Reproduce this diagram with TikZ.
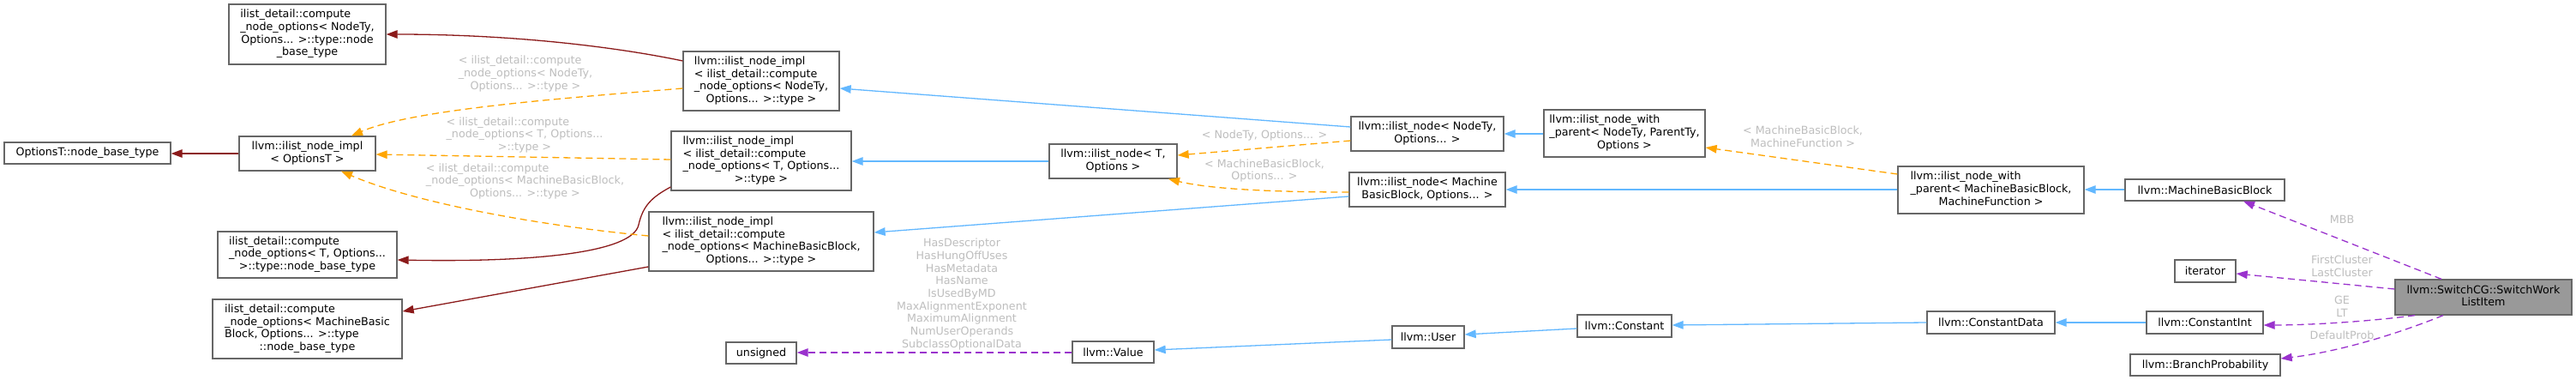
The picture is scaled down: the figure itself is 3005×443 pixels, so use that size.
\documentclass[tikz,border=0pt]{standalone}
\usepackage{fontspec}
\setmainfont{DejaVu Sans}
\usetikzlibrary{arrows.meta}
\definecolor{inhblue}{HTML}{63B8FF}
\definecolor{privred}{HTML}{8B1A1A}
\definecolor{tmplorange}{HTML}{FFA500}
\definecolor{usepurple}{HTML}{9A32CD}
\definecolor{lblgrey}{HTML}{BEBEBE}
\definecolor{nodeborder}{HTML}{666666}
\definecolor{mainfill}{HTML}{999999}
\newcommand\ctrline[1]{\multicolumn{1}{@{}c@{}}{#1}}
\newcommand\lbox[1]{\begin{tabular}{@{}l@{}}#1\end{tabular}}
\newcommand\cbox[1]{\begin{tabular}{@{}c@{}}#1\end{tabular}}
\begin{document}
\begin{tikzpicture}[x=1pt,y=-1pt,
  every node/.style={font=\fontsize{12.7}{14.7}\selectfont},
  cls/.style={draw=nodeborder, line width=1.3pt, fill=white, inner sep=0pt, rectangle},
  mainbox/.style={cls, fill=mainfill},
  edgebase/.style={line width=1.3pt, -{Triangle[length=13pt,width=9.5pt]}},
  bedge/.style={edgebase, draw=inhblue},
  redge/.style={edgebase, draw=privred},
  oedge/.style={edgebase, draw=tmplorange, dash pattern=on 8pt off 5pt},
  pedge/.style={edgebase, draw=usepurple, dash pattern=on 8pt off 5pt},
  lbl/.style={text=lblgrey, inner sep=0pt}
]
\fill[white] (0,0) rectangle (3005,443);
\useasboundingbox (0,0) rectangle (3005,443);

% nodes
\node[cls, minimum width=183, minimum height=70] (n1) at (358.5,40)
  {\lbox{ilist\_detail::compute\\ \_node\_options< NodeTy,\\ \ctrline{Options... >::type::node}\\ \ctrline{\_base\_type}}};
\node[cls, minimum width=194, minimum height=25] (n2) at (102,178.5) {OptionsT::node\_base\_type};
\node[cls, minimum width=159, minimum height=40] (n3) at (358.5,179)
  {\cbox{llvm::ilist\_node\_impl\\ < OptionsT >}};
\node[cls, minimum width=209, minimum height=54] (n4) at (358.5,297)
  {\lbox{ilist\_detail::compute\\ \_node\_options< T, Options...\\ \ctrline{>::type::node\_base\_type}}};
\node[cls, minimum width=221, minimum height=69] (n5) at (358.5,383.5)
  {\lbox{ilist\_detail::compute\\ \_node\_options< MachineBasic\\ Block, Options... >::type\\ \ctrline{::node\_base\_type}}};
\node[cls, minimum width=182, minimum height=69] (n6) at (888,94.5)
  {\lbox{llvm::ilist\_node\_impl\\ < ilist\_detail::compute\\ \_node\_options< NodeTy,\\ \ctrline{Options... >::type >}}};
\node[cls, minimum width=210, minimum height=69] (n7) at (888,187.5)
  {\lbox{llvm::ilist\_node\_impl\\ < ilist\_detail::compute\\ \_node\_options< T, Options...\\ \ctrline{>::type >}}};
\node[cls, minimum width=262, minimum height=69] (n8) at (888,281.5)
  {\lbox{llvm::ilist\_node\_impl\\ < ilist\_detail::compute\\ \_node\_options< MachineBasicBlock,\\ \ctrline{Options... >::type >}}};
\node[cls, minimum width=82, minimum height=25] (nu) at (888,411.5) {unsigned};
\node[cls, minimum width=95, minimum height=25] (nv) at (1298.5,410.5) {llvm::Value};
\node[cls, minimum width=149, minimum height=40] (inT) at (1298.5,188)
  {\cbox{llvm::ilist\_node< T,\\ Options >}};
\node[cls, minimum width=178, minimum height=40] (inN) at (1665,156)
  {\cbox{llvm::ilist\_node< NodeTy,\\ Options... >}};
\node[cls, minimum width=182, minimum height=40] (inM) at (1665,221)
  {\cbox{llvm::ilist\_node< Machine\\ BasicBlock, Options... >}};
\node[cls, minimum width=84, minimum height=26] (user) at (1666,393) {llvm::User};
\node[cls, minimum width=110, minimum height=26] (const) at (1895,380) {llvm::Constant};
\node[cls, minimum width=188, minimum height=55] (wpN) at (1895,155.5)
  {\lbox{llvm::ilist\_node\_with\\ \_parent< NodeTy, ParentTy,\\ \ctrline{Options >}}};
\node[cls, minimum width=217, minimum height=55] (wpM) at (2322.5,221.5)
  {\lbox{llvm::ilist\_node\_with\\ \_parent< MachineBasicBlock,\\ \ctrline{MachineFunction >}}};
\node[cls, minimum width=186, minimum height=25] (mbb) at (2572,221.5) {llvm::MachineBasicBlock};
\node[cls, minimum width=71, minimum height=26] (iter) at (2572.5,316) {iterator};
\node[cls, minimum width=149, minimum height=26] (cdata) at (2322.5,376) {llvm::ConstantData};
\node[cls, minimum width=136, minimum height=26] (cint) at (2572,376) {llvm::ConstantInt};
\node[cls, minimum width=175, minimum height=25] (bp) at (2572.5,425.5) {llvm::BranchProbability};
\node[mainbox, minimum width=206, minimum height=41] (main) at (2897,346.5)
  {\cbox{llvm::SwitchCG::SwitchWork\\ ListItem}};

% private (dark red) edges
\draw[redge] (n6.west |- 0,71) .. controls (720,55) and (600,40) .. (n1.east |- 0,40);
\draw[redge] (n3.west |- 0,179) -- (n2.east |- 0,179);
\draw[redge] (n7.west |- 0,218) .. controls (760,230) and (750,240) .. (745,262)
  .. controls (738,295) and (620,306) .. (n4.east |- 0,303);
\draw[redge] (n8.west |- 0,311) -- (n5.east |- 0,363);

% template (orange) edges
\draw[oedge] (n6.west |- 0,103) .. controls (650,115) and (480,128) .. (n3.north -| 410,0);
\draw[oedge] (n7.west |- 0,186) -- (n3.east |- 0,180);
\draw[oedge] (n8.west |- 0,275) .. controls (620,262) and (480,235) .. (n3.south -| 398,0);
\draw[oedge] (inN.west |- 0,164) -- (inT.east |- 0,181);
\draw[oedge] (inM.west |- 0,224) .. controls (1480,224) and (1410,220) .. (inT.south -| 1363,0);
\draw[oedge] (wpM.west |- 0,203) -- (wpN.east |- 0,172);

% inheritance (blue) edges
\draw[bedge] (inN.west |- 0,148) -- (n6.east |- 0,103);
\draw[bedge] (inT.west |- 0,188) -- (n7.east |- 0,188);
\draw[bedge] (inM.west |- 0,229) -- (n8.east |- 0,271);
\draw[bedge] (wpN.west |- 0,156) -- (inN.east |- 0,156);
\draw[bedge] (wpM.west |- 0,221) -- (inM.east |- 0,221);
\draw[bedge] (mbb.west |- 0,221) -- (wpM.east |- 0,221);
\draw[bedge] (cint.west |- 0,376) -- (cdata.east |- 0,376);
\draw[bedge] (cdata.west |- 0,376) -- (const.east |- 0,379);
\draw[bedge] (const.west |- 0,383) -- (user.east |- 0,390);
\draw[bedge] (user.west |- 0,396) -- (nv.east |- 0,408);

% usage (purple) edges
\draw[pedge] (nv.west |- 0,411) -- (nu.east |- 0,411);
\draw[pedge] (main.north -| 2848,0) -- (mbb.south -| 2617,0);
\draw[pedge] (main.west |- 0,337) -- (iter.east |- 0,319);
\draw[pedge] (main.south -| 2817,0) .. controls (2770,374) and (2700,379) .. (cint.east |- 0,379);
\draw[pedge] (main.south -| 2850,0) .. controls (2800,388) and (2730,410) .. (bp.east |- 0,418);

% edge labels
\node[lbl] (l5) at (613,86.5)
  {\lbox{< ilist\_detail::compute\\ \_node\_options< NodeTy,\\ \ctrline{Options... >::type >}}};
\node[lbl] (l6) at (612,158)
  {\lbox{< ilist\_detail::compute\\ \_node\_options< T, Options...\\ \ctrline{>::type >}}};
\node[lbl] (l7) at (612.5,212)
  {\lbox{< ilist\_detail::compute\\ \_node\_options< MachineBasicBlock,\\ \ctrline{Options... >::type >}}};
\node[lbl] (l11) at (1475,158) {< NodeTy, Options... >};
\node[lbl] (l12) at (1475,199.5) {\cbox{< MachineBasicBlock,\\ Options... >}};
\node[lbl] (l15) at (2103,161) {\cbox{< MachineBasicBlock,\\ MachineFunction >}};
\node[lbl] (l17) at (2732,256) {MBB};
\node[lbl] (l18) at (2732,312) {\cbox{FirstCluster\\ LastCluster}};
\node[lbl] (l19) at (2732,359) {\cbox{GE\\ LT}};
\node[lbl] (l20) at (2732,391) {DefaultProb};
\node[lbl] (l25) at (1122,343.5)
  {\cbox{HasDescriptor\\ HasHungOffUses\\ HasMetadata\\ HasName\\ IsUsedByMD\\ MaxAlignmentExponent\\ MaximumAlignment\\ NumUserOperands\\ SubclassOptionalData}};
\end{tikzpicture}
\end{document}
